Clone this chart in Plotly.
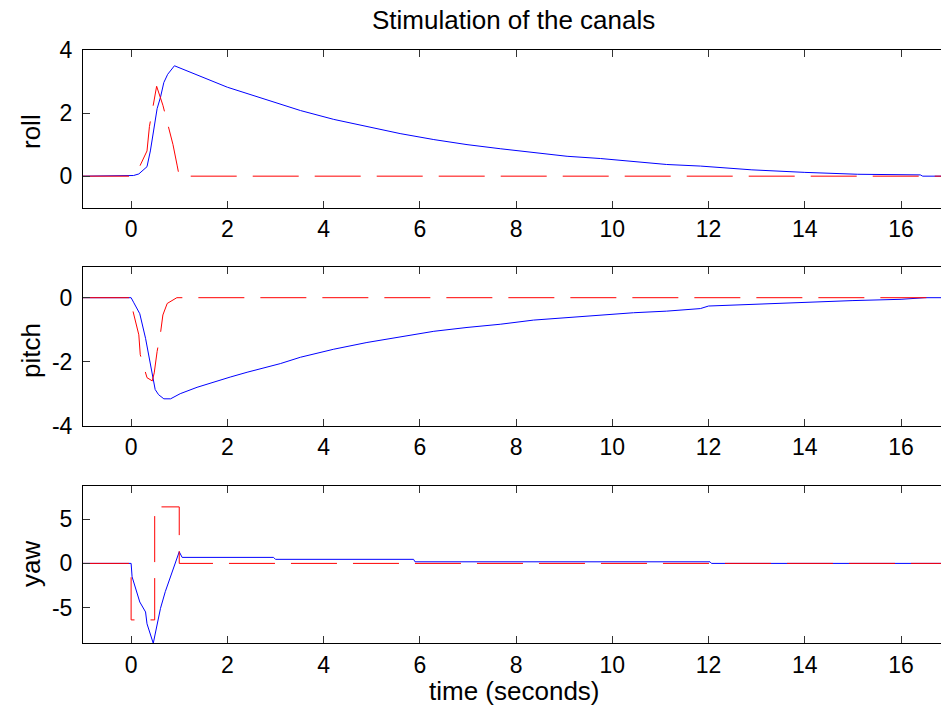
import plotly.graph_objects as go

# ---------------- data ----------------
roll_t = [-1, 0, 0.05, 0.16, 0.33, 0.40, 0.47, 0.54, 0.61, 0.68, 0.76, 0.90,
          2.0, 3.0, 3.52, 4.21, 4.90, 5.59, 6.29, 6.98, 7.67, 8.36, 9.06, 9.75,
          10.44, 11.13, 11.83, 12.9, 14.0, 15.1, 16.4, 16.45, 16.83]
roll_resp = [0, 0, 0.02, 0.07, 0.30, 0.80, 1.52, 2.14, 2.50, 2.97, 3.23, 3.50,
             2.82, 2.33, 2.08, 1.80, 1.57, 1.35, 1.16, 1.00, 0.87, 0.75, 0.63, 0.56,
             0.46, 0.37, 0.32, 0.20, 0.12, 0.06, 0.04, 0, 0]
roll_stim_t = [-1, 0, 0.16, 0.33, 0.38, 0.44, 0.53, 0.66, 0.76, 0.87, 0.955, 1.0, 16.83]
roll_stim = [0, 0, 0.25, 0.80, 1.57, 2.09, 2.85, 2.25, 1.68, 1.00, 0.35, 0, 0]

pitch_t = [-1, 0, 0.05, 0.18, 0.30, 0.37, 0.44, 0.50, 0.57, 0.68, 0.82, 1.02,
           1.37, 1.72, 2.06, 2.41, 2.75, 3.1, 3.52, 4.21, 4.90, 5.59, 6.29, 6.98,
           7.67, 8.36, 9.06, 9.75, 10.44, 11.13, 11.83, 12.0, 13.0, 14.0, 15.0,
           16.0, 16.5, 16.83]
pitch_resp = [0, 0, -0.14, -0.50, -1.27, -1.84, -2.30, -2.87, -3.03, -3.16, -3.16, -3.00,
              -2.80, -2.63, -2.48, -2.33, -2.19, -2.06, -1.86, -1.61, -1.40, -1.22, -1.05, -0.93,
              -0.83, -0.70, -0.62, -0.55, -0.47, -0.42, -0.34, -0.26, -0.20, -0.14, -0.09,
              -0.05, 0, 0]
pitch_stim_t = [-1, 0, 0.04, 0.16, 0.19, 0.33, 0.44, 0.48, 0.54, 0.61, 0.66, 0.75, 0.95, 16.83]
pitch_stim = [0, 0, -0.43, -1.16, -1.78, -2.50, -2.60, -2.35, -1.68, -1.11, -0.54, -0.18, 0, 0]

yaw_t = [-1, 0, 0.02, 0.09, 0.18, 0.30, 0.33, 0.46, 0.53, 0.61, 0.71, 0.82, 0.92,
         1.0, 1.06, 2.96, 3.0, 5.87, 5.9, 12.03, 12.06, 16.83]
yaw_resp = [0, 0, -1.52, -2.85, -4.37, -5.50, -6.84, -9.05, -7.20, -5.10, -3.20, -1.50, 0.18,
            1.32, 0.68, 0.68, 0.46, 0.46, 0.18, 0.18, 0, 0]
yaw_stim_t = [-1, 0, 0, 0.49, 0.49, 1.0, 1.0, 16.83]
yaw_stim = [0, 0, -6.4, -6.4, 6.4, 6.4, 0, 0]

x_ticks = [0, 2, 4, 6, 8, 10, 12, 14, 16]
x_tick_text = ["0", "2", "4", "6", "8", "10", "12", "14", "16"]
roll_ticks, roll_tick_text = [0, 2, 4], ["0", "2", "4"]
pitch_ticks, pitch_tick_text = [-4, -2, 0], ["-4", "-2", "0"]
yaw_ticks, yaw_tick_text = [-5, 0, 5], ["-5", "0", "5"]

panel_names = ["roll", "pitch", "yaw"]
title_text = "Stimulation of the canals"
xlabel_text = "time (seconds)"

# ---------------- figure ----------------
W, H = 941, 713
FONT = "Liberation Sans, Arial, Helvetica, sans-serif"
BLUE = "#0000FF"
RED = "#FF0000"

fig = go.Figure()

panels = [
    (roll_t, roll_resp, roll_stim_t, roll_stim, "y", roll_ticks, roll_tick_text, [-1, 4], (50, 207.7)),
    (pitch_t, pitch_resp, pitch_stim_t, pitch_stim, "y2", pitch_ticks, pitch_tick_text, [-4, 0.95], (267.3, 425.7)),
    (yaw_t, yaw_resp, yaw_stim_t, yaw_stim, "y3", yaw_ticks, yaw_tick_text, [-9.05, 8.8], (485.7, 643.3)),
]

x_left = 83 / W
for i, (tr, vr, ts, vs, yname, yt, ytt, yr, (ptop, pbot)) in enumerate(panels):
    xname = "x" if i == 0 else f"x{i+1}"
    fig.add_trace(go.Scatter(x=tr, y=vr, mode="lines", xaxis=xname, yaxis=yname,
                             line=dict(color=BLUE, width=1), showlegend=False))
    fig.add_trace(go.Scatter(x=ts, y=vs, mode="lines", xaxis=xname, yaxis=yname,
                             line=dict(color=RED, width=1, dash="46px,16px"), showlegend=False))
    xa = dict(domain=[x_left, 1], range=[-1, 16.83], tickmode="array", tickvals=x_ticks,
              ticktext=x_tick_text, ticks="inside", ticklen=7, tickcolor="#333",
              tickwidth=1, showline=True, linecolor="black", linewidth=1, mirror="ticks",
              showgrid=False, zeroline=False, anchor=yname, automargin=False,
              tickfont=dict(family=FONT, size=23, color="black"), ticklabelstandoff=1)
    ya = dict(domain=[1 - pbot / H, 1 - ptop / H], range=yr, tickmode="array", tickvals=yt,
              ticktext=ytt, ticks="inside", ticklen=7, tickcolor="#333", tickwidth=1,
              showline=True, linecolor="black", linewidth=1, mirror=False,
              showgrid=False, zeroline=False, anchor=xname, automargin=False,
              tickfont=dict(family=FONT, size=23, color="black"), ticklabelstandoff=5)
    key = "" if i == 0 else str(i + 1)
    fig.layout["xaxis" + key] = xa
    fig.layout["yaxis" + key] = ya

annotations = [
    dict(text=title_text, x=513 / W, y=1 - 20 / H, xref="paper", yref="paper",
         showarrow=False, xanchor="center", yanchor="middle",
         font=dict(family=FONT, size=26, color="black")),
    dict(text=xlabel_text, x=514 / W, y=1 - 691 / H, xref="paper", yref="paper",
         showarrow=False, xanchor="center", yanchor="middle",
         font=dict(family=FONT, size=26, color="black")),
]
for name, cy in zip(panel_names, [131, 350, 564]):
    annotations.append(dict(text=name, x=31 / W, y=1 - cy / H, xref="paper", yref="paper",
                            showarrow=False, textangle=-90, xanchor="center", yanchor="middle",
                            font=dict(family=FONT, size=26, color="black")))

fig.update_layout(template="none", width=W, height=H,
                  margin=dict(l=0, r=0, t=0, b=0, pad=0, autoexpand=False),
                  paper_bgcolor="white", plot_bgcolor="white",
                  annotations=annotations, showlegend=False)

fig.write_html("out.html")
